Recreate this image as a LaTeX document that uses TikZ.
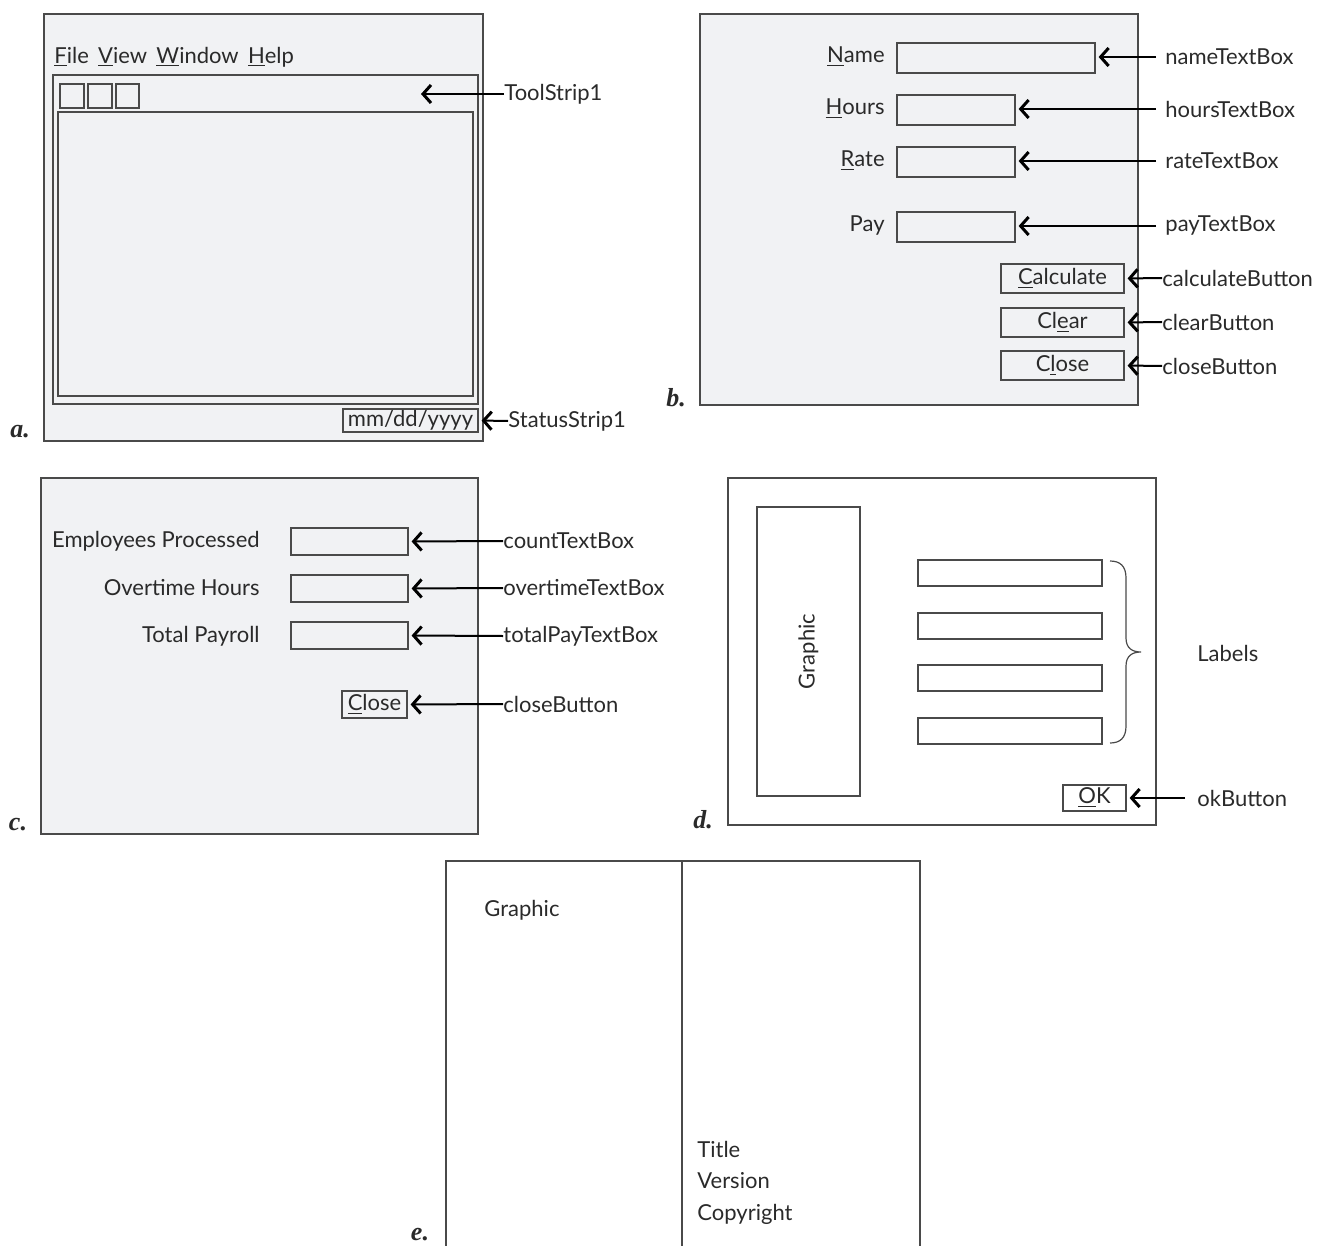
\documentclass[tikz,border=0pt]{standalone}
\usepackage{fontspec}
\setmainfont{Lato}
\newfontfamily\labfont{Liberation Serif}
\usetikzlibrary{arrows.meta,fit}
\definecolor{formC}{HTML}{F1F2F4}
\definecolor{lineC}{HTML}{4A4A4A}
\definecolor{textC}{HTML}{2A2A2A}
\newcommand\uln[1]{\underline{#1}}
\begin{document}
\begin{tikzpicture}[x=0.5pt,y=-0.5pt,font=\fontsize{11}{13}\selectfont,text=textC,
  form/.style={draw=lineC,fill=formC,line width=0.7pt,inner sep=0pt},
  plainform/.style={draw=lineC,fill=white,line width=0.7pt,inner sep=0pt},
  ctl/.style={draw=lineC,line width=0.6pt,inner sep=0pt},
  ctext/.style={inner sep=0pt},
  conn/.style={line width=1pt,-{Straight Barb[length=4pt,width=9pt,line width=1.5pt]}},
  lbl/.style={anchor=west,inner sep=0pt},
  rlbl/.style={anchor=east,inner sep=0pt},
  plab/.style={font=\labfont\itshape\bfseries\fontsize{13}{15}\selectfont,inner sep=0pt}]
\useasboundingbox (0,0) rectangle (1325,1245);

% ---------------- panel a ----------------
\node[form,fit={(44,14) (483,441)}] (formA) {};
\node[lbl] (menuA) at (54,57) {\uln{F}ile\, \uln{V}iew\, \uln{W}indow\, \uln{H}elp};
\node[ctl,fit={(53,75) (478,404)}] (stripA) {};
\node[ctl,fit={(60,84) (84,108)}] (sq1) {};
\node[ctl,fit={(88,84) (112,108)}] (sq2) {};
\node[ctl,fit={(116,84) (139,108)}] (sq3) {};
\node[ctl,fit={(58,112) (473,396)}] (clientA) {};
\node[ctl,fit={(343,409) (478,432)}] (statusBox) {};
\node[ctext] (statusT) at (statusBox.center) {mm/dd/yyyy};
\coordinate (tsTarget) at (421,94);
\node[lbl] (tsLbl) at (504,94) {ToolStrip1};
\draw[conn] (tsLbl.west) -- (tsTarget);
\node[lbl] (ssLbl) at (508,421) {StatusStrip1};
\draw[conn,shorten >=1.5pt] (ssLbl.west) -- (statusBox.east);
\node[plab] (labA) at (20,432) {a.};

% ---------------- panel b ----------------
\node[form,fit={(700,14) (1138,405)}] (formB) {};
\node[ctl,fit={(897,43) (1095,73)}] (nameBox) {};
\node[ctl,fit={(897,95) (1015,125)}] (hoursBox) {};
\node[ctl,fit={(897,147) (1015,177)}] (rateBox) {};
\node[ctl,fit={(897,212) (1015,242)}] (payBox) {};
\node[rlbl] (nameL) at (885,57) {\uln{N}ame};
\node[rlbl] (hoursL) at (885,109) {\uln{H}ours};
\node[rlbl] (rateL) at (885,161) {\uln{R}ate};
\node[rlbl] (payL) at (885,226) {Pay};
\node[ctl,fit={(1001,264) (1124,293)}] (calcBtn) {};
\node[ctl,fit={(1001,308) (1124,337)}] (clearBtn) {};
\node[ctl,fit={(1001,351) (1124,380)}] (closeBtnB) {};
\node[ctext] (calcBtnT) at (calcBtn.center) {\uln{C}alculate};
\node[ctext] (clearBtnT) at (clearBtn.center) {Cl\uln{e}ar};
\node[ctext] (closeBtnBT) at (closeBtnB.center) {C\uln{l}ose};
\coordinate (nameS) at (1156,57);
\coordinate (hoursS) at (1156,109);
\coordinate (rateS) at (1156,161);
\coordinate (payS) at (1156,226);
\node[lbl] (nameT) at (1165,57) {nameTextBox};
\node[lbl] (hoursT) at (1165,109) {hoursTextBox};
\node[lbl] (rateT) at (1165,161) {rateTextBox};
\node[lbl] (payT) at (1165,226) {payTextBox};
\draw[conn,shorten >=1.5pt] (nameS) -- (nameBox.east |- nameS);
\draw[conn,shorten >=1.5pt] (hoursS) -- (hoursBox.east |- hoursS);
\draw[conn,shorten >=1.5pt] (rateS) -- (rateBox.east |- rateS);
\draw[conn,shorten >=1.5pt] (payS) -- (payBox.east |- payS);
\node[lbl] (calcT) at (1162,278) {calculateButton};
\node[lbl] (clearT) at (1162,322) {clearButton};
\node[lbl] (closeTB) at (1162,366) {closeButton};
\draw[conn,shorten >=1.5pt] (calcT.west) -- (calcBtn.east);
\draw[conn,shorten >=1.5pt] (clearT.west) -- (clearBtn.east);
\draw[conn,shorten >=1.5pt] (closeTB.west) -- (closeBtnB.east);
\node[plab] (labB) at (676,398) {b.};

% ---------------- panel c ----------------
\node[form,fit={(41,478) (478,834)}] (formC) {};
\node[rlbl] (empL) at (260,541) {Employees Processed};
\node[rlbl] (otL) at (260,588) {Overtime Hours};
\node[rlbl] (totL) at (260,636) {Total Payroll};
\node[ctl,fit={(291,528) (408,555)}] (countBox) {};
\node[ctl,fit={(291,575) (408,602)}] (otBox) {};
\node[ctl,fit={(291,622) (408,649)}] (totBox) {};
\node[ctl,fit={(342,691) (407,718)}] (closeBtnC) {};
\node[ctext] (closeBtnCT) at (closeBtnC.center) {\uln{C}lose};
\node[lbl] (countT) at (503,541) {countTextBox};
\node[lbl] (otT) at (503,588) {overtimeTextBox};
\node[lbl] (totT) at (503,636) {totalPayTextBox};
\node[lbl] (closeTC) at (503,704) {closeButton};
\draw[conn,shorten >=1.5pt] (countT.west) -- (countBox.east);
\draw[conn,shorten >=1.5pt] (otT.west) -- (otBox.east);
\draw[conn,shorten >=1.5pt] (totT.west) -- (totBox.east);
\draw[conn,shorten >=1.5pt] (closeTC.west) -- (closeBtnC.east);
\node[plab] (labC) at (18,825) {c.};

% ---------------- panel d ----------------
\node[plainform,fit={(728,478) (1156,825)}] (formD) {};
\node[ctl,fit={(757,507) (860,796)}] (graphicD) {};
\node[rotate=90,inner sep=0pt] (graphicT) at (graphicD.center) {Graphic};
\node[ctl,fit={(918,560) (1102,586)}] (lab1) {};
\node[ctl,fit={(918,613) (1102,639)}] (lab2) {};
\node[ctl,fit={(918,665) (1102,691)}] (lab3) {};
\node[ctl,fit={(918,718) (1102,744)}] (lab4) {};
\draw[lineC,line width=0.6pt] (1110,561) .. controls (1120,561) and (1126,566) .. (1126,578)
  -- (1126,638) .. controls (1126,648) and (1132,652) .. (1141,652)
  .. controls (1132,652) and (1126,656) .. (1126,666)
  -- (1126,726) .. controls (1126,738) and (1120,743) .. (1110,743);
\node[lbl] (labelsT) at (1197,653) {Labels};
\node[ctl,fit={(1063,785) (1126,811)}] (okBtn) {};
\node[ctext] (okBtnT) at (okBtn.center) {\uln{O}K};
\coordinate (okS) at (1185,798);
\node[lbl] (okT) at (1197,798) {okButton};
\draw[conn,shorten >=1.5pt] (okS) -- (okBtn.east);
\node[plab] (labD) at (703,820) {d.};

% ---------------- panel e ----------------
\draw[lineC,line width=0.8pt] (446,1250) -- (446,861) -- (920,861) -- (920,1250);
\draw[lineC,line width=0.8pt] (682,861) -- (682,1250);
\node[lbl] (graphicE) at (484,910) {Graphic};
\node[lbl] (titleE) at (697,1149) {Title};
\node[lbl] (versionE) at (697,1181) {Version};
\node[lbl] (copyE) at (697,1214) {Copyright};
\node[plab] (labE) at (420,1235) {e.};
\end{tikzpicture}
\end{document}
